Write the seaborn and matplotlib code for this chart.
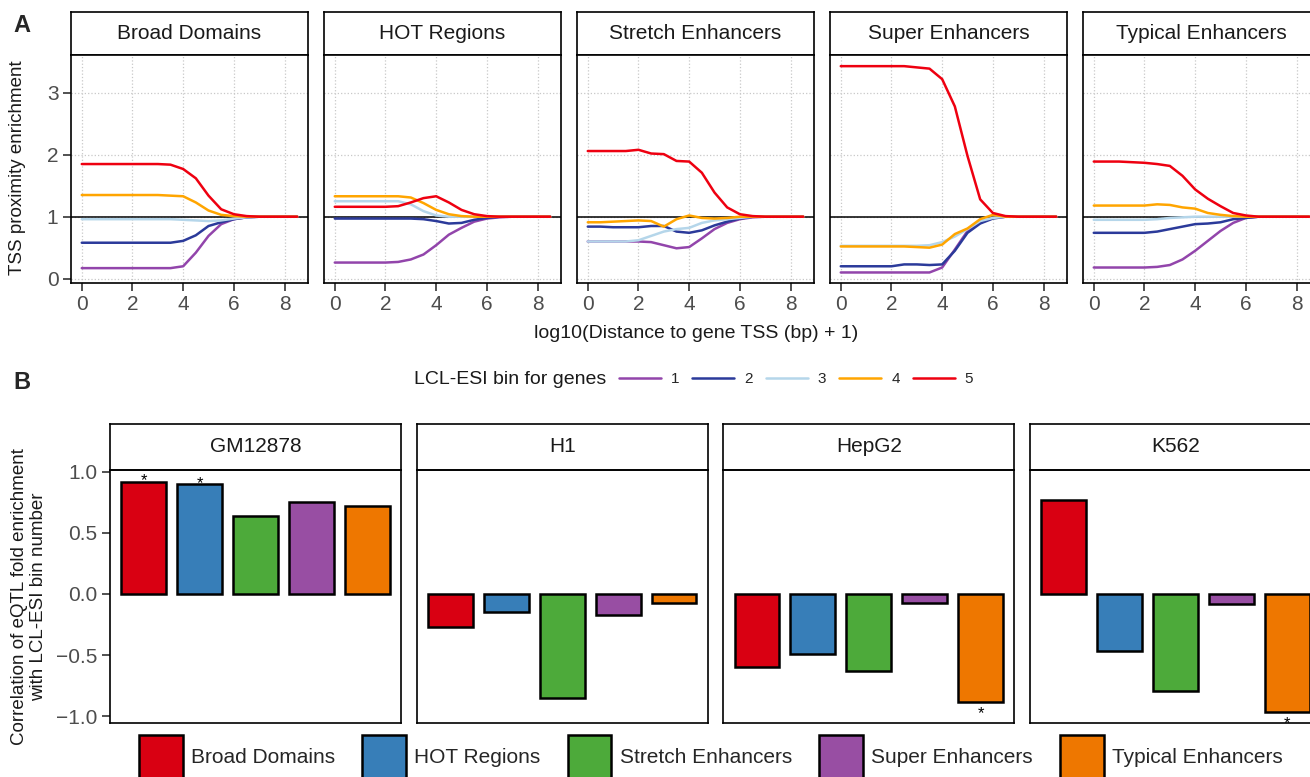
import numpy as np
import pandas as pd
import matplotlib
matplotlib.use("Agg")
import matplotlib.pyplot as plt
from matplotlib.lines import Line2D
from matplotlib.patches import Patch
import seaborn as sns

sns.set_style("white")
plt.rcParams['font.family'] = ['Liberation Sans', 'DejaVu Sans']

# ---------------- data: panel A ----------------
regions = ["Broad Domains", "HOT Regions", "Stretch Enhancers", "Super Enhancers", "Typical Enhancers"]
esi_bins = ["1", "2", "3", "4", "5"]
log_dist = [0, 0.5, 1, 1.5, 2, 2.5, 3, 3.5, 4, 4.5, 5, 5.5, 6, 6.5, 7, 7.5, 8, 8.5]

broad = {
    "1": [0.17, 0.17, 0.17, 0.17, 0.17, 0.17, 0.17, 0.17, 0.20, 0.42, 0.69, 0.88, 0.96, 0.99, 1, 1, 1, 1],
    "2": [0.58, 0.58, 0.58, 0.58, 0.58, 0.58, 0.58, 0.58, 0.61, 0.70, 0.85, 0.91, 0.96, 0.99, 1, 1, 1, 1],
    "3": [0.96, 0.96, 0.96, 0.96, 0.96, 0.96, 0.96, 0.96, 0.95, 0.94, 0.93, 0.94, 0.97, 0.99, 1, 1, 1, 1],
    "4": [1.35, 1.35, 1.35, 1.35, 1.35, 1.35, 1.35, 1.34, 1.33, 1.23, 1.10, 1.03, 1.01, 1.00, 1, 1, 1, 1],
    "5": [1.85, 1.85, 1.85, 1.85, 1.85, 1.85, 1.85, 1.84, 1.77, 1.62, 1.34, 1.12, 1.04, 1.01, 1, 1, 1, 1],
}
hot = {
    "1": [0.26, 0.26, 0.26, 0.26, 0.26, 0.27, 0.31, 0.39, 0.54, 0.71, 0.82, 0.92, 0.97, 0.99, 1, 1, 1, 1],
    "2": [0.97, 0.97, 0.97, 0.97, 0.97, 0.97, 0.97, 0.96, 0.93, 0.89, 0.90, 0.95, 0.98, 1.00, 1, 1, 1, 1],
    "3": [1.25, 1.25, 1.25, 1.25, 1.25, 1.25, 1.20, 1.09, 1.02, 1.00, 1.00, 1.00, 1.00, 1.00, 1, 1, 1, 1],
    "4": [1.33, 1.33, 1.33, 1.33, 1.33, 1.33, 1.31, 1.22, 1.11, 1.04, 1.01, 1.00, 1.00, 1.00, 1, 1, 1, 1],
    "5": [1.16, 1.16, 1.16, 1.16, 1.16, 1.17, 1.23, 1.30, 1.33, 1.23, 1.11, 1.04, 1.01, 1.00, 1, 1, 1, 1],
}
stretch = {
    "1": [0.60, 0.60, 0.60, 0.60, 0.60, 0.59, 0.54, 0.49, 0.51, 0.65, 0.80, 0.90, 0.96, 0.99, 1, 1, 1, 1],
    "2": [0.84, 0.84, 0.83, 0.83, 0.83, 0.85, 0.85, 0.76, 0.74, 0.78, 0.86, 0.92, 0.97, 1.00, 1, 1, 1, 1],
    "3": [0.60, 0.60, 0.60, 0.60, 0.62, 0.69, 0.76, 0.80, 0.82, 0.90, 0.94, 0.96, 0.98, 1.00, 1, 1, 1, 1],
    "4": [0.91, 0.91, 0.92, 0.93, 0.94, 0.93, 0.84, 0.96, 1.02, 0.98, 0.97, 0.98, 1.00, 1.00, 1, 1, 1, 1],
    "5": [2.06, 2.06, 2.06, 2.06, 2.08, 2.02, 2.01, 1.90, 1.89, 1.71, 1.39, 1.15, 1.04, 1.01, 1, 1, 1, 1],
}
super_enh = {
    "1": [0.10, 0.10, 0.10, 0.10, 0.10, 0.10, 0.10, 0.10, 0.18, 0.47, 0.77, 0.90, 0.98, 1.00, 1, 1, 1, 1],
    "2": [0.20, 0.20, 0.20, 0.20, 0.20, 0.23, 0.23, 0.22, 0.23, 0.45, 0.74, 0.89, 0.97, 1.00, 1, 1, 1, 1],
    "3": [0.53, 0.53, 0.53, 0.53, 0.53, 0.53, 0.53, 0.54, 0.59, 0.68, 0.80, 0.93, 0.98, 1.00, 1, 1, 1, 1],
    "4": [0.52, 0.52, 0.52, 0.52, 0.52, 0.52, 0.51, 0.50, 0.55, 0.72, 0.81, 0.96, 1.03, 1.00, 1, 1, 1, 1],
    "5": [3.43, 3.43, 3.43, 3.43, 3.43, 3.43, 3.41, 3.39, 3.22, 2.78, 1.98, 1.28, 1.06, 1.01, 1, 1, 1, 1],
}
typical = {
    "1": [0.18, 0.18, 0.18, 0.18, 0.18, 0.19, 0.22, 0.31, 0.45, 0.61, 0.77, 0.90, 0.98, 1.00, 1, 1, 1, 1],
    "2": [0.74, 0.74, 0.74, 0.74, 0.74, 0.76, 0.80, 0.84, 0.88, 0.89, 0.91, 0.96, 0.98, 1.00, 1, 1, 1, 1],
    "3": [0.95, 0.95, 0.95, 0.95, 0.95, 0.96, 0.98, 0.99, 1.00, 1.00, 1.00, 1.00, 1.00, 1.00, 1, 1, 1, 1],
    "4": [1.18, 1.18, 1.18, 1.18, 1.18, 1.20, 1.19, 1.15, 1.13, 1.06, 1.03, 1.01, 1.00, 1.00, 1, 1, 1, 1],
    "5": [1.89, 1.89, 1.89, 1.88, 1.87, 1.85, 1.82, 1.66, 1.44, 1.29, 1.17, 1.06, 1.02, 1.00, 1, 1, 1, 1],
}
curves = [broad, hot, stretch, super_enh, typical]
bin_colors = ["#9245AB", "#2B3A9A", "#B5D6EA", "#FFA500", "#EE0010"]

# ---------------- data: panel B ----------------
cell_lines = ["GM12878", "H1", "HepG2", "K562"]
corr_gm12878 = [0.92, 0.90, 0.64, 0.75, 0.72]
corr_h1 = [-0.27, -0.15, -0.85, -0.175, -0.07]
corr_hepg2 = [-0.60, -0.49, -0.63, -0.07, -0.885]
corr_k562 = [0.77, -0.465, -0.795, -0.08, -0.97]
sig_gm12878 = [True, True, False, False, False]
sig_h1 = [False, False, False, False, False]
sig_hepg2 = [False, False, False, False, True]
sig_k562 = [False, False, False, False, True]
corrs = [corr_gm12878, corr_h1, corr_hepg2, corr_k562]
sigs = [sig_gm12878, sig_h1, sig_hepg2, sig_k562]
region_colors = ["#D90012", "#377EB8", "#4DAA3A", "#984EA3", "#EE7700"]

# ---------------- layout helpers ----------------
W, H = 1310, 777
fig = plt.figure(figsize=(W / 100, H / 100), dpi=100)


def rect(x0, y0, x1, y1):
    return [x0 / W, 1 - y1 / H, (x1 - x0) / W, (y1 - y0) / H]


tick_col = "#4D4D4D"
FS = 15


def strip(x0, y0, x1, y1, label):
    s = fig.add_axes(rect(x0, y0, x1, y1))
    s.set_xticks([])
    s.set_yticks([])
    s.set_facecolor("white")
    s.set_zorder(0)
    for sp in s.spines.values():
        sp.set_color("black")
        sp.set_linewidth(1.2)
    s.text(0.5, 0.5, label, ha="center", va="center", fontsize=FS, color="#1A1A1A",
           transform=s.transAxes)


# ---------------- panel A ----------------
pw_a = 237
for i, (name, cdict) in enumerate(zip(regions, curves)):
    left = 71 + i * 253
    strip(left, 12, left + pw_a, 55, name)
    ax = fig.add_axes(rect(left, 55, left + pw_a, 283))
    ax.set_zorder(1)
    rows = []
    for b in esi_bins:
        for xv, yv in zip(log_dist, cdict[b]):
            rows.append((xv, yv, b))
    df = pd.DataFrame(rows, columns=["x", "y", "bin"])
    ax.axhline(1, color="black", lw=1.1, zorder=1)
    sns.lineplot(data=df, x="x", y="y", hue="bin", hue_order=esi_bins,
                 palette=bin_colors, legend=False, lw=1.8, ax=ax, zorder=3)
    ax.set_xlim(-0.425, 8.925)
    ax.set_ylim(-0.07, 3.61)
    ax.set_xticks([0, 2, 4, 6, 8])
    ax.set_yticks([0, 1, 2, 3])
    ax.grid(True, linestyle=":", color="#C8C8C8", lw=0.9)
    ax.set_axisbelow(True)
    ax.set_xlabel("")
    ax.set_ylabel("")
    for sp in ax.spines.values():
        sp.set_color("black")
        sp.set_linewidth(1.2)
    ax.tick_params(axis="x", length=6, width=1.2, color="#333333", labelcolor=tick_col,
                   labelsize=FS, pad=3, bottom=True)
    if i == 0:
        ax.tick_params(axis="y", length=6, width=1.2, color="#333333", labelcolor=tick_col,
                       labelsize=FS, pad=3, left=True)
    else:
        ax.tick_params(axis="y", left=False, labelleft=False)

fig.text(696 / W, 1 - 333 / H, "log10(Distance to gene TSS (bp) + 1)", ha="center", va="center",
         fontsize=14, color="#1A1A1A")
fig.text(18 / W, 1 - 168 / H, "TSS proximity enrichment", ha="center", va="center",
         rotation=90, fontsize=13.5, color="#1A1A1A")

# legend for bins
fig.text(606 / W, 1 - 379 / H, "LCL-ESI bin for genes", ha="right", va="center", fontsize=14,
         color="#1A1A1A")
line_handles = [Line2D([0], [0], color=c, lw=1.8) for c in bin_colors]
fig.legend(line_handles, esi_bins, loc="center left", bbox_to_anchor=(619 / W, 1 - 379 / H),
           ncol=5, frameon=False, fontsize=11, handlelength=2.75, handletextpad=0.65,
           columnspacing=0.85, borderpad=0, borderaxespad=0)

# ---------------- panel B ----------------
pw_b = 291
for i, (cell, vals, sg) in enumerate(zip(cell_lines, corrs, sigs)):
    left = 110 + i * 306.67
    strip(left, 424, left + pw_b, 470, cell)
    ax = fig.add_axes(rect(left, 470, left + pw_b, 723))
    ax.set_zorder(1)
    ax.patch.set_alpha(0)
    dfb = pd.DataFrame({"region": regions, "corr": vals})
    sns.barplot(data=dfb, x="region", y="corr", hue="region", order=regions, hue_order=regions,
                palette=region_colors, saturation=1, legend=False, width=0.8,
                edgecolor="black", linewidth=1.8, ax=ax)
    for j, (v, s) in enumerate(zip(vals, sg)):
        if s:
            off = -2.5 if v > 0 else -11.5
            ax.annotate("*", (j, v), xytext=(0, off), textcoords="offset points",
                        ha="center", va="baseline", fontsize=12, color="black",
                        annotation_clip=False, zorder=10, clip_on=False)
    ax.set_xlim(-0.6, 4.6)
    ax.set_ylim(-1.057, 1.016)
    ax.set_xticks([])
    ax.set_xlabel("")
    ax.set_ylabel("")
    ax.grid(False)
    for sp in ax.spines.values():
        sp.set_color("black")
        sp.set_linewidth(1.2)
    if i == 0:
        ax.set_yticks([-1.0, -0.5, 0.0, 0.5, 1.0])
        ax.set_yticklabels(["\u22121.0", "\u22120.5", "0.0", "0.5", "1.0"])
        ax.tick_params(axis="y", length=6, width=1.2, color="#333333", labelcolor=tick_col,
                       labelsize=FS, pad=3, left=True)
    else:
        ax.set_yticks([])

fig.text(29 / W, 1 - 597 / H, "Correlation of eQTL fold enrichment\nwith LCL-ESI bin number",
         ha="center", va="center", rotation=90, fontsize=13.5, color="#1A1A1A", linespacing=1.12)

patch_handles = [Patch(facecolor=c, edgecolor="black", linewidth=1.8) for c in region_colors]
fig.legend(patch_handles, regions, loc="center left", bbox_to_anchor=(139 / W, 1 - 757 / H),
           ncol=5, frameon=False, fontsize=FS, handlelength=2.1, handleheight=2.88,
           handletextpad=0.4, columnspacing=1.3, borderpad=0, borderaxespad=0)

# panel letters
fig.text(13 / W, 1 - 25 / H, "A", ha="left", va="center", fontsize=17, fontweight="bold")
fig.text(13 / W, 1 - 382 / H, "B", ha="left", va="center", fontsize=17, fontweight="bold")

fig.savefig("out.png", dpi=100)
